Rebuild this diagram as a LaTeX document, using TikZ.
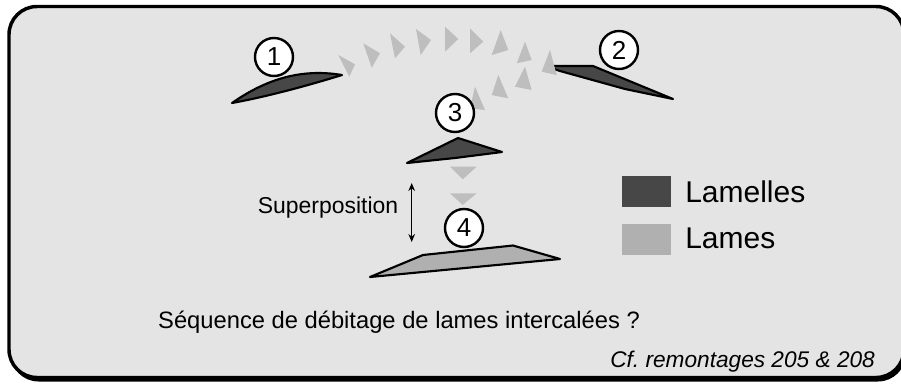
\documentclass[tikz,border=0pt]{standalone}
\usepackage{fontspec}
\setmainfont{Liberation Sans}
\usetikzlibrary{arrows.meta}
\definecolor{bgfill}{HTML}{E4E4E4}
\definecolor{darkfill}{HTML}{474747}
\definecolor{lightfill}{HTML}{B0B0B0}
\definecolor{trifill}{HTML}{BEBEBE}
\begin{document}
\begin{tikzpicture}[x=0.75pt,y=-0.75pt,
  lamelle/.style={fill=darkfill,draw=black,line width=1.6pt,line join=round},
  lame/.style={fill=lightfill,draw=black,line width=1.6pt,line join=round},
  tri/.style={fill=trifill},
  num/.style={circle,draw=black,fill=white,line width=1.8pt,minimum size=28.5pt,inner sep=0pt,font=\fontsize{19.5}{19.5}\selectfont},
  legbox/.style={inner sep=0pt,minimum width=37pt,minimum height=23pt},
  lbl/.style={inner sep=0pt}
]
\useasboundingbox (0,0) rectangle (901,383);
\clip (0,0) rectangle (901,383);
% frame
\fill[black,rounded corners=21pt] (10.5,8.5) rectangle (906,381.5);
\draw[fill=bgfill,line width=2.6pt,rounded corners=21pt] (9,6.5) rectangle (904,377.5);

% lamelle 1
\draw[lamelle] (232,103) .. controls (265,80) and (300,68) .. (342,75)
   .. controls (300,88) and (260,98) .. (232,103) -- cycle;
% lamelle 2
\draw[lamelle] (545,66) -- (593,66) -- (673,99) -- (625,89) -- (560,71) -- cycle;
% lamelle 3
\draw[lamelle] (407,163) -- (458,138) -- (502,152) -- (455,158) -- cycle;
% lame 4
\draw[lame] (370,277) -- (423,255) -- (513,245.5) -- (560,259) -- cycle;

% gray arrowheads, 1 -> 2
\fill[tri] (338.3,55) -- (355,64.3) -- (349.3,76.7) -- cycle;
\fill[tri] (363.3,43.3) -- (380,53.3) -- (371.7,67.7) -- cycle;
\fill[tri] (390,33.3) -- (405,46.7) -- (395,58.3) -- cycle;
\fill[tri] (416,29) -- (431,40) -- (420.7,55) -- cycle;
\fill[tri] (445,26.7) -- (458.3,39) -- (445,51.7) -- cycle;
\fill[tri] (470,28.3) -- (483.3,41.7) -- (470,53.3) -- cycle;
\fill[tri] (500.7,30) -- (508.3,50) -- (491.7,55) -- cycle;
\fill[tri] (525,41.7) -- (531.7,60) -- (516.7,63.3) -- cycle;
\fill[tri] (550,50) -- (556.7,75) -- (541.7,71.7) -- cycle;
% 2 -> 3
\fill[tri] (525,66.7) -- (531.7,90) -- (515,86.7) -- cycle;
\fill[tri] (498.3,75) -- (508.3,98.3) -- (491.7,95) -- cycle;
\fill[tri] (475,86.7) -- (485,110) -- (470,108.3) -- cycle;
% 3 -> 4
\fill[tri] (450,166.7) -- (476.7,166.7) -- (462.7,179.3) -- cycle;
\fill[tri] (450,193.3) -- (476.7,193.3) -- (462.7,205) -- cycle;

% numbers
\node[num] (n1) at (274,57) {1};
\node[num] (n2) at (619,50) {2};
\node[num] (n3) at (455,113) {3};
\node[num] (n4) at (464,228) {4};

% superposition
\coordinate (sa) at (411.7,183);
\coordinate (sb) at (411.7,242);
\draw[line width=0.9pt,{Stealth[length=6pt,width=5pt]}-{Stealth[length=6pt,width=5pt]}] (sa) -- (sb);
\node[lbl,font=\fontsize{17.2}{20}\selectfont] (sup) at (328,208) {Superposition};

% legend
\node[legbox,fill=darkfill] (k1) at (646.3,191.7) {};
\node[legbox,fill=lightfill] (k2) at (646.3,239.2) {};
\node[lbl,anchor=west,font=\fontsize{22.5}{26}\selectfont] (t1) at (685,191.7) {Lamelles};
\node[lbl,anchor=west,font=\fontsize{22.5}{26}\selectfont] (t2) at (685,238) {Lames};

% captions
\node[lbl,font=\fontsize{17.8}{20}\selectfont] (seq) at (399,322) {Séquence de débitage de lames intercalées ?};
\node[lbl,anchor=west,font=\itshape\fontsize{17}{20}\selectfont] (cf) at (610,361.7) {Cf.\ remontages 205 \& 208};
\end{tikzpicture}
\end{document}
